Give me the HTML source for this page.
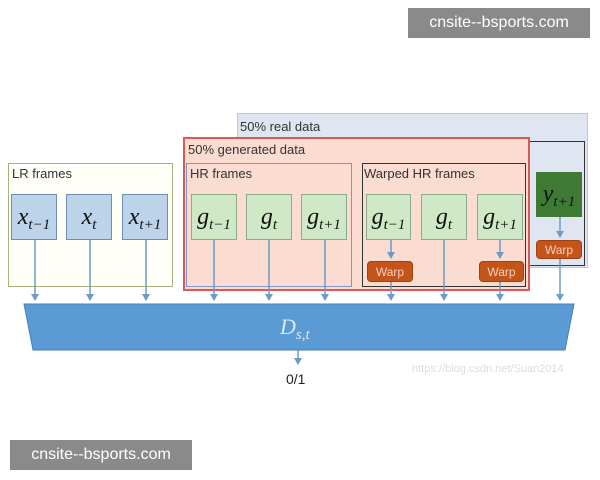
<!DOCTYPE html><html><head><style>
body{margin:0;width:600px;height:480px;background:#fff;position:relative;overflow:hidden;font-family:"Liberation Sans",sans-serif}
.a{position:absolute;box-sizing:border-box}
.lbl{font-size:13px;color:#333}
.bx{border:1.5px solid #6b8fb0;background:#bcd3ea;font-family:"Liberation Serif",serif;font-style:italic;font-size:24px;display:flex;align-items:center;justify-content:center;color:#111}
.bx sub{font-size:15px;vertical-align:-5px;line-height:0}
.g{background:#cfe9c6;border-color:#8aaa88}
.w{background:#c5541b;border:1px solid #a0400f;border-radius:4px;color:#f3d2bc;font-size:12px;display:flex;align-items:center;justify-content:center}
.wm{background:#8a8a8a;color:#fff;font-size:16px;display:flex;align-items:center;justify-content:center}
</style></head><body>
<div class="a" style="left:237px;top:113px;width:351px;height:155px;background:#dfe6f1;border:1px solid #b9c8dc"></div>
<div class="a lbl" style="left:240px;top:119px;">50% real data</div>
<div class="a" style="left:528px;top:141px;width:57px;height:125px;border:1.5px solid #333"></div>
<div class="a" style="left:183px;top:137px;width:347px;height:154px;background:#fbdcd0;border:2px solid #d9595b"></div>
<div class="a lbl" style="left:188px;top:142px;">50% generated data</div>
<div class="a" style="left:186px;top:163px;width:166px;height:124px;border:1.5px solid #8494c8"></div>
<div class="a lbl" style="left:190px;top:166px;">HR frames</div>
<div class="a" style="left:362px;top:163px;width:164px;height:124px;border:1.5px solid #333"></div>
<div class="a lbl" style="left:364px;top:166px;">Warped HR frames</div>
<div class="a" style="left:8px;top:163px;width:165px;height:124px;border:1.5px solid #a8b07c;background:#fffff8"></div>
<div class="a lbl" style="left:12px;top:166px;">LR frames</div>
<div class="a bx" style="left:11px;top:194px;width:46px;height:46px"><span>x<sub>t−1</sub></span></div>
<div class="a bx" style="left:66px;top:194px;width:46px;height:46px"><span>x<sub>t</sub></span></div>
<div class="a bx" style="left:122px;top:194px;width:46px;height:46px"><span>x<sub>t+1</sub></span></div>
<div class="a bx g" style="left:191px;top:194px;width:46px;height:46px"><span>g<sub>t−1</sub></span></div>
<div class="a bx g" style="left:246px;top:194px;width:46px;height:46px"><span>g<sub>t</sub></span></div>
<div class="a bx g" style="left:301px;top:194px;width:46px;height:46px"><span>g<sub>t+1</sub></span></div>
<div class="a bx g" style="left:366px;top:194px;width:45px;height:46px"><span>g<sub>t−1</sub></span></div>
<div class="a bx g" style="left:421px;top:194px;width:46px;height:46px"><span>g<sub>t</sub></span></div>
<div class="a bx g" style="left:477px;top:194px;width:46px;height:46px"><span>g<sub>t+1</sub></span></div>
<div class="a bx" style="left:536px;top:172px;width:46px;height:45px;background:#3f7a35;border-color:#3f7a35"><span>y<sub>t+1</sub></span></div>
<div class="a w" style="left:367px;top:261px;width:46px;height:21px">Warp</div>
<div class="a w" style="left:479px;top:261px;width:45px;height:21px">Warp</div>
<div class="a w" style="left:536px;top:240px;width:46px;height:19px">Warp</div>
<svg class="a" style="left:0;top:0" width="600" height="480">
<defs><marker id="m" markerWidth="8" markerHeight="8" refX="4" refY="6" orient="0" markerUnits="userSpaceOnUse"><path d="M0,0 L8,0 L4,7z" fill="#6d9bc8"/></marker></defs>
<g stroke="#6d9bc8" stroke-width="1.5" marker-end="url(#m)">
<line x1="35" y1="240" x2="35" y2="300"/><line x1="90" y1="240" x2="90" y2="300"/><line x1="146" y1="240" x2="146" y2="300"/>
<line x1="214" y1="240" x2="214" y2="300"/><line x1="269" y1="240" x2="269" y2="300"/><line x1="325" y1="240" x2="325" y2="300"/>
<line x1="391" y1="282" x2="391" y2="300"/><line x1="444" y1="240" x2="444" y2="300"/><line x1="500" y1="282" x2="500" y2="300"/>
<line x1="391" y1="240" x2="391" y2="258"/><line x1="500" y1="240" x2="500" y2="258"/>
<line x1="560" y1="217" x2="560" y2="237"/><line x1="560" y1="259" x2="560" y2="300"/>
<line x1="298" y1="350" x2="298" y2="364"/>
</g>
<polygon points="24,304 574,304 565,350 33,350" fill="#5b9bd5" stroke="#4a7fb0"/>
<text x="280" y="334" font-family="Liberation Serif" font-style="italic" font-size="22" fill="#dbe8f6">D<tspan font-size="15" dy="5">s,t</tspan></text>
<text x="286" y="384" font-size="14" fill="#222">0/1</text>
<text x="412" y="372" font-size="11" fill="#ddd">https://blog.csdn.net/Suan2014</text>
</svg>
<div class="a wm" style="left:408px;top:8px;width:182px;height:30px">cnsite--bsports.com</div>
<div class="a wm" style="left:10px;top:440px;width:182px;height:30px">cnsite--bsports.com</div>
</body></html>
